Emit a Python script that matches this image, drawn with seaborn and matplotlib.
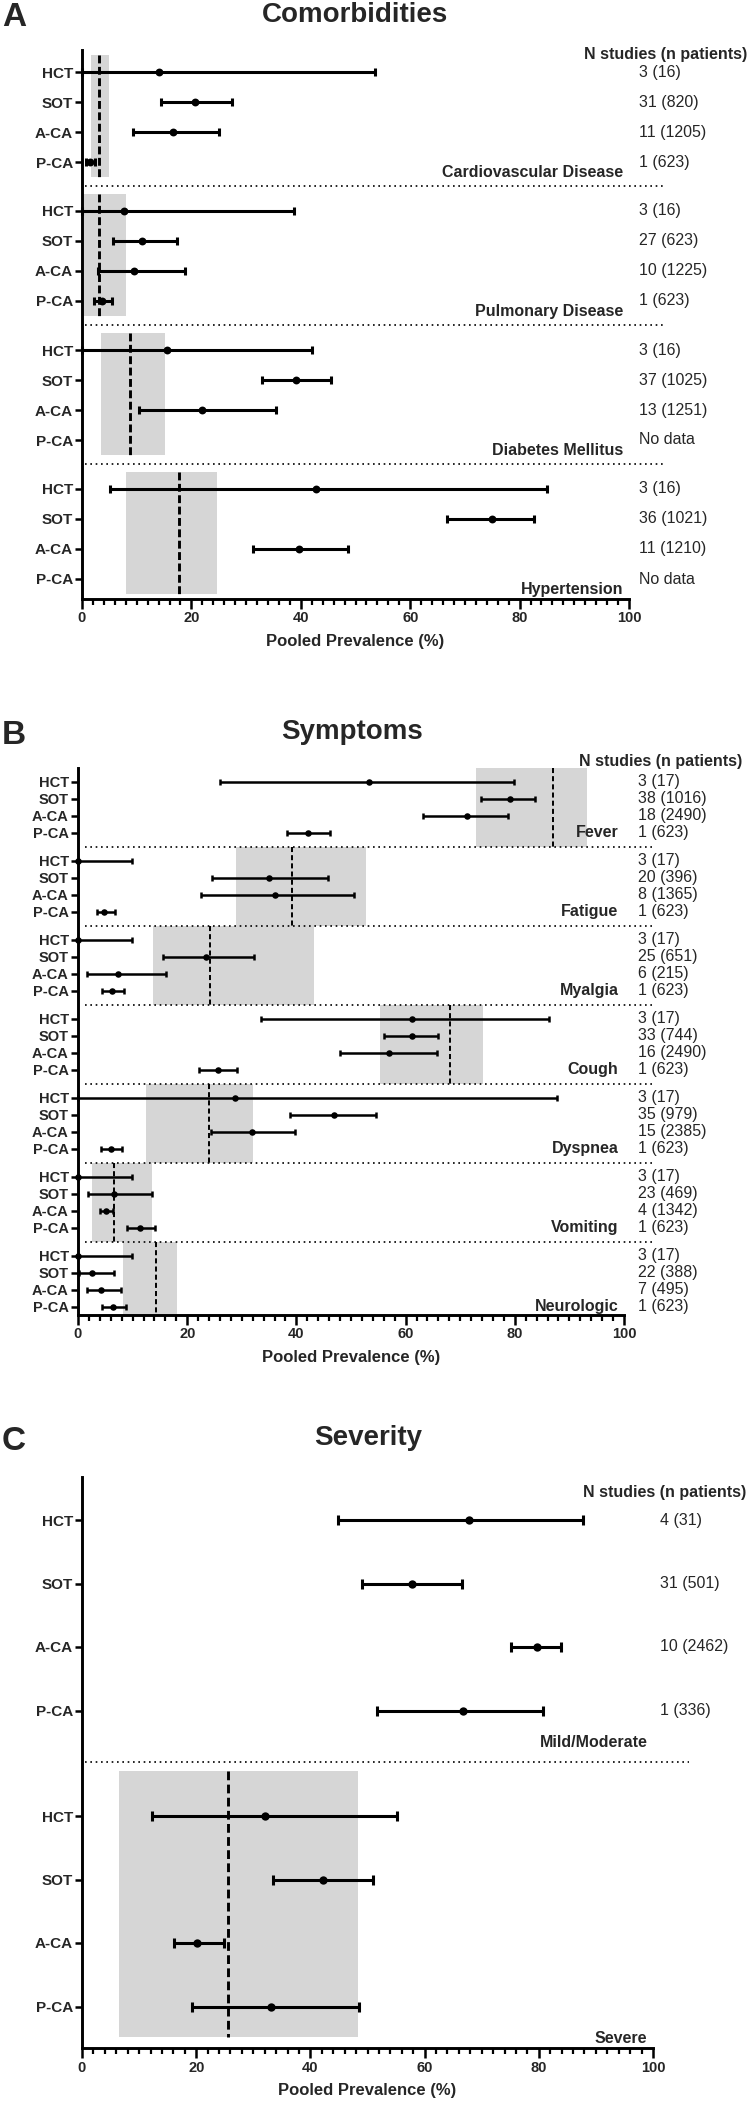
import numpy as np
import pandas as pd
import matplotlib
matplotlib.use('Agg')
import matplotlib.pyplot as plt
from matplotlib.ticker import MultipleLocator
import seaborn as sns

sns.set_theme(style='ticks')
plt.rcParams['font.family'] = ['Liberation Sans', 'DejaVu Sans']

W, H = 750, 2108
GRAY = '#d6d6d6'
SUBGROUPS = ['HCT', 'SOT', 'A-CA', 'P-CA']

# A - comorbidities (pooled prevalence %, 95% CI)
com_labels = ['Cardiovascular Disease', 'Pulmonary Disease', 'Diabetes Mellitus', 'Hypertension']
com_est = [[14.0, 20.6, 16.6, 1.4], [7.7, 11.0, 9.5, 3.6],
           [15.6, 39.2, 21.9, np.nan], [42.7, 74.9, 39.7, np.nan]]
com_lo = [[0.0, 14.5, 9.4, 0.7], [0.0, 5.7, 2.9, 2.2],
          [0.0, 32.9, 10.4, np.nan], [5.1, 66.8, 31.3, np.nan]]
com_hi = [[53.5, 27.5, 25.0, 2.4], [38.8, 17.3, 18.8, 5.5],
          [42.0, 45.6, 35.4, np.nan], [85.1, 82.7, 48.6, np.nan]]
com_pool = [3.1, 3.1, 8.8, 17.8]
com_pool_lo = [1.6, 0.3, 3.5, 8.1]
com_pool_hi = [4.9, 8.1, 15.2, 24.6]
com_n = [['3 (16)', '31 (820)', '11 (1205)', '1 (623)'],
         ['3 (16)', '27 (623)', '10 (1225)', '1 (623)'],
         ['3 (16)', '37 (1025)', '13 (1251)', 'No data'],
         ['3 (16)', '36 (1021)', '11 (1210)', 'No data']]

# B - symptoms
sym_labels = ['Fever', 'Fatigue', 'Myalgia', 'Cough', 'Dyspnea', 'Vomiting', 'Neurologic']
sym_est = [[53.3, 79.2, 71.3, 42.1], [0.0, 34.9, 36.1, 4.7], [0.0, 23.5, 7.4, 6.2],
           [61.1, 61.1, 56.9, 25.6], [28.8, 46.8, 31.9, 6.0], [0.0, 6.6, 5.2, 11.3],
           [0.0, 2.6, 4.3, 6.5]]
sym_lo = [[26.0, 73.9, 63.2, 38.3], [0.0, 24.5, 22.6, 3.5], [0.0, 15.6, 1.6, 4.4],
          [33.5, 56.1, 47.9, 22.1], [0.0, 38.9, 24.3, 4.2], [0.0, 1.8, 4.1, 9.0],
          [0.0, 0.2, 1.7, 4.4]]
sym_hi = [[79.8, 83.7, 78.7, 46.2], [9.9, 45.8, 50.5, 6.8], [9.9, 32.3, 16.1, 8.5],
          [86.2, 66.0, 65.8, 29.2], [87.7, 54.6, 39.8, 8.1], [9.9, 13.6, 6.5, 14.1],
          [9.9, 6.6, 7.8, 8.8]]
sym_pool = [87.0, 39.2, 24.2, 68.1, 24.0, 6.6, 14.2]
sym_pool_lo = [72.9, 28.9, 13.7, 55.3, 12.5, 2.6, 8.2]
sym_pool_hi = [93.2, 52.7, 43.3, 74.2, 32.1, 13.6, 18.1]
sym_n = [['3 (17)', '38 (1016)', '18 (2490)', '1 (623)'],
         ['3 (17)', '20 (396)', '8 (1365)', '1 (623)'],
         ['3 (17)', '25 (651)', '6 (215)', '1 (623)'],
         ['3 (17)', '33 (744)', '16 (2490)', '1 (623)'],
         ['3 (17)', '35 (979)', '15 (2385)', '1 (623)'],
         ['3 (17)', '23 (469)', '4 (1342)', '1 (623)'],
         ['3 (17)', '22 (388)', '7 (495)', '1 (623)']]

# C - severity
sev_labels = ['Mild/Moderate', 'Severe']
sev_est = [[67.7, 57.8, 79.7, 66.7], [32.1, 42.2, 20.2, 33.1]]
sev_lo = [[44.9, 49.0, 75.1, 51.6], [12.2, 33.5, 16.1, 19.3]]
sev_hi = [[87.7, 66.5, 83.9, 80.7], [55.2, 51.0, 24.8, 48.5]]
sev_pool = [np.nan, 25.5]
sev_pool_lo = [np.nan, 6.5]
sev_pool_hi = [np.nan, 48.4]
sev_n = [['4 (31)', '31 (501)', '10 (2462)', '1 (336)'], ['', '', '', '']]

# layout, all in output pixels (y data of each axes == pixel row)
LAY_A = dict(box=(82, 50, 629, 599), first=72, row=30, stride=139, band=(-0.58, 3.5),
             sep=3.8, lab=3.35, dots=(0.5, 106.2), txt_x=1.018, head=(1.216, 55),
             ms=32, lw=2.2, cap=2.6, dlw=2.1, dash=(2.7, 1.2), ylab=11)
LAY_B = dict(box=(78, 768, 624, 1315), first=782, row=16.9, stride=79, band=(-0.82, 3.85),
             sep=3.85, lab=3.0, dots=(1.3, 105.7), txt_x=1.026, head=(1.216, 762),
             ms=22, lw=1.8, cap=2.2, dlw=1.4, dash=(2.6, 1.6), ylab=10.5)
LAY_C = dict(box=(82, 1477, 653, 2048), first=1520, row=63.5, stride=296, band=(-0.71, 3.48),
             sep=3.81, lab=3.5, dots=(0.5, 106.3), txt_x=1.012, head=(1.163, 1492),
             ms=36, lw=2.2, cap=3.6, dlw=2.1, dash=(3.0, 1.5), ylab=11)

fig = plt.figure(figsize=(W / 100, H / 100), dpi=100)


def draw_panel(lay, labels, est, lo, hi, pool, plo, phi, ntext):
    l, t, r, b = lay['box']
    ax = fig.add_axes([l / W, 1 - b / H, (r - l) / W, (b - t) / H])
    row, first, stride = lay['row'], lay['first'], lay['stride']

    recs = []
    for g, name in enumerate(labels):
        for k, sub in enumerate(SUBGROUPS):
            recs.append(dict(group=name, sub=sub, y=first + g * stride + k * row,
                             est=est[g][k], lo=lo[g][k], hi=hi[g][k], n=ntext[g][k]))
    df = pd.DataFrame(recs)

    for g, name in enumerate(labels):
        y0 = first + g * stride
        if not np.isnan(pool[g]):
            ya, yb = y0 + lay['band'][0] * row, y0 + lay['band'][1] * row
            ax.fill_betweenx([ya, yb], plo[g], phi[g], color=GRAY, lw=0, zorder=0)
            ax.vlines(pool[g], ya, yb, colors='black', lw=lay['dlw'],
                      linestyles=(0, lay['dash']), zorder=2)
        if g < len(labels) - 1:
            ax.hlines(y0 + lay['sep'] * row, *lay['dots'], colors='black', lw=1.2,
                      linestyles=(0, (1, 2.2)), clip_on=False, zorder=1)
        ax.text(99, y0 + lay['lab'] * row, name, ha='right', va='center',
                fontsize=11.5, fontweight='bold', zorder=6)

    d = df.dropna(subset=['est'])
    ax.errorbar(d['est'], d['y'], xerr=[d['est'] - d['lo'], d['hi'] - d['est']], fmt='none',
                ecolor='black', elinewidth=lay['lw'], capsize=lay['cap'], capthick=lay['lw'],
                zorder=3, clip_on=False)
    sns.scatterplot(data=d, x='est', y='y', ax=ax, color='black', s=lay['ms'], linewidth=0,
                    legend=False, zorder=4, clip_on=False)

    tr = ax.get_yaxis_transform()
    for _, rr in df.iterrows():
        if rr['n']:
            ax.text(lay['txt_x'], rr['y'], rr['n'], transform=tr, ha='left', va='center',
                    fontsize=11.5, clip_on=False)
    ax.text(lay['head'][0], lay['head'][1], 'N studies (n patients)', transform=tr,
            ha='right', va='center', fontsize=11.5, fontweight='bold', clip_on=False)

    ax.set_xlim(0, 100)
    ax.set_ylim(b, t)
    ax.set_yticks(df['y'])
    ax.set_yticklabels(df['sub'], fontsize=lay['ylab'], fontweight='bold')
    ax.xaxis.set_major_locator(MultipleLocator(20))
    ax.xaxis.set_minor_locator(MultipleLocator(2))
    ax.tick_params(axis='x', which='major', length=7, width=1.8, color='black',
                   labelsize=10.5, pad=2)
    ax.tick_params(axis='x', which='minor', length=4.5, width=1.6, color='black', bottom=True)
    ax.tick_params(axis='y', length=5, width=1.8, color='black', pad=1.5)
    for lab in ax.get_xticklabels():
        lab.set_fontweight('bold')
    ax.set_xlabel('Pooled Prevalence (%)', fontsize=12, fontweight='bold', labelpad=6)
    ax.set_ylabel('')
    sns.despine(ax=ax)
    for s in ('left', 'bottom'):
        ax.spines[s].set_linewidth(2.1)
        ax.spines[s].set_color('black')
    return ax


draw_panel(LAY_A, com_labels, com_est, com_lo, com_hi, com_pool, com_pool_lo, com_pool_hi, com_n)
draw_panel(LAY_B, sym_labels, sym_est, sym_lo, sym_hi, sym_pool, sym_pool_lo, sym_pool_hi, sym_n)
draw_panel(LAY_C, sev_labels, sev_est, sev_lo, sev_hi, sev_pool, sev_pool_lo, sev_pool_hi, sev_n)

for letter, title, tx, ty in [('A', 'Comorbidities', 355, 15), ('B', 'Symptoms', 352, 732),
                              ('C', 'Severity', 368, 1438)]:
    fig.text(2 / W, 1 - (ty + 3) / H, letter, fontsize=24, fontweight='bold', va='center')
    fig.text(tx / W, 1 - ty / H, title, fontsize=20, fontweight='bold', ha='center', va='center')

fig.savefig('out.png', dpi=100)
